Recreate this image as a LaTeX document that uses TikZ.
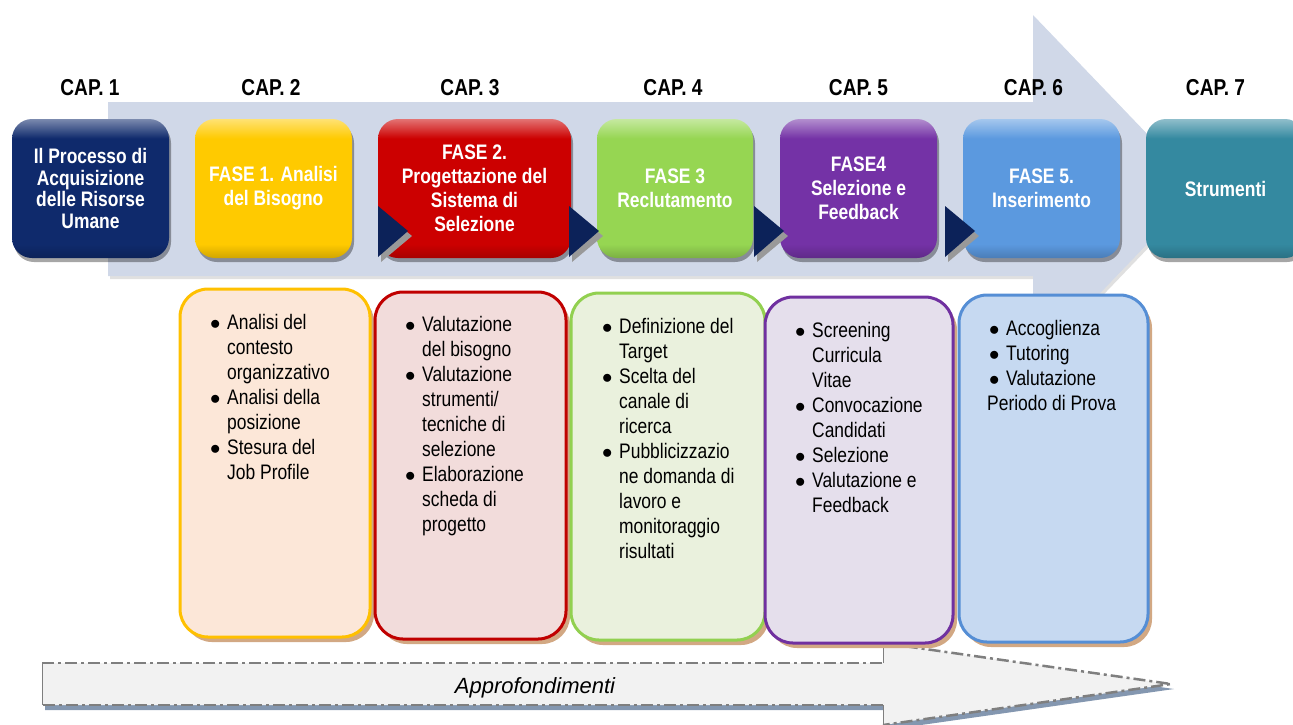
\documentclass[tikz,border=0pt]{standalone}
\usepackage{fontspec}
\setmainfont{Liberation Sans}[FakeStretch=0.83]
\newfontfamily\plainsans{Liberation Sans}
\usetikzlibrary{shadows}
\definecolor{bandc}{HTML}{D0D8E8}
\definecolor{navyb}{HTML}{0F2A6C}
\definecolor{yelb}{HTML}{FFCA00}
\definecolor{redb}{HTML}{CC0000}
\definecolor{grnb}{HTML}{96D652}
\definecolor{purb}{HTML}{7432A6}
\definecolor{blub}{HTML}{5B99DF}
\definecolor{tealb}{HTML}{3489A0}
\definecolor{tric}{HTML}{0C2259}
\definecolor{tanc}{HTML}{D2A883}
\definecolor{fillA}{HTML}{FCE7D8}
\definecolor{fillB}{HTML}{F2DCDB}
\definecolor{fillC}{HTML}{EAF1DD}
\definecolor{fillD}{HTML}{E5DFEC}
\definecolor{fillE}{HTML}{C6D9F1}
\definecolor{lineA}{HTML}{FFC000}
\definecolor{lineB}{HTML}{C00000}
\definecolor{lineC}{HTML}{92D050}
\definecolor{lineD}{HTML}{7030A0}
\definecolor{lineE}{HTML}{558ED5}
\definecolor{arrfill}{HTML}{F2F2F2}
\definecolor{arrline}{HTML}{7F7F7F}
\definecolor{arrshad}{HTML}{8497B0}
\colorlet{bvtop}{white}
\colorlet{bvmid}{gray}
\colorlet{bvbot}{black}
\pgfdeclareverticalshading[bvtop,bvmid,bvbot]{bevel}{100bp}{color(0bp)=(bvbot); color(25bp)=(bvbot); color(30bp)=(bvmid); color(68bp)=(bvmid); color(75bp)=(bvtop); color(100bp)=(bvtop)}
\newcommand{\blt}{\makebox[18pt][l]{\hspace{1pt}$\bullet$}}
\begin{document}
\begin{tikzpicture}[x=1pt,y=-1pt,
  topbox/.style={rounded corners=20pt, minimum width=#1, minimum height=139pt,
    inner sep=0pt, align=center, text=white,
    font=\bfseries\fontsize{21}{24}\selectfont,
    drop shadow={shadow xshift=2pt, shadow yshift=-4pt, opacity=0.35, fill=black}},
  shadeof/.style={/utils/exec={\colorlet{bvtop}{#1!55!white}\colorlet{bvmid}{#1}\colorlet{bvbot}{#1!82!black}}, shading=bevel},
  chaplabel/.style={font=\bfseries\fontsize{23}{23}\selectfont, inner sep=0pt},
  botbox/.style 2 args={draw=#1, fill=#2, line width=3pt, rounded corners=28pt,
    inner sep=0pt, general shadow={fill=tanc, shadow xshift=4pt, shadow yshift=-5pt}},
  listtext/.style={font=\fontsize{21}{25}\selectfont, inner sep=0pt, anchor=base west},
  dashdot/.style={draw=arrline, line width=2.5pt, dash pattern=on 12pt off 4pt on 3pt off 4pt}
]
\useasboundingbox (0,0) rectangle (1293,724);
\clip (0,0) rectangle (1293,724);

% big background arrow
\fill[black, opacity=0.12] (110,105) -- (1035,105) -- (1035,18) -- (1202,192) -- (1035,366) -- (1035,279) -- (110,279) -- cycle;
\fill[bandc] (108,102) -- (1033,102) -- (1033,15) -- (1200,189) -- (1033,363) -- (1033,276) -- (108,276) -- cycle;

% bottom dashed arrow
\fill[arrshad] (45,668) -- (886,668) -- (886,648) -- (1174,689) -- (886,730) -- (886,710) -- (45,710) -- cycle;
\fill[arrfill] (42,663) -- (883,663) -- (883,643) -- (1171,684) -- (883,725) -- (883,705) -- (42,705) -- cycle;
\draw[dashdot] (42,663) -- (883,663);
\draw[dashdot] (883,643) -- (1171,684) -- (883,725);
\draw[dashdot] (883,705) -- (42,705);
\draw[arrline, line width=0.8pt] (42,663) -- (42,705) (883,663) -- (883,643) (883,705) -- (883,725);
\node[font=\plainsans\itshape\fontsize{22}{22}\selectfont, inner sep=0pt] (appr) at (535,687.5) {Approfondimenti};

% chapter labels
\node[chaplabel] (c1) at (90,88) {CAP. 1};
\node[chaplabel] (c2) at (271,88) {CAP. 2};
\node[chaplabel] (c3) at (470,88) {CAP. 3};
\node[chaplabel] (c4) at (673,88) {CAP. 4};
\node[chaplabel] (c5) at (858.5,88) {CAP. 5};
\node[chaplabel] (c6) at (1033.5,88) {CAP. 6};
\node[chaplabel] (c7) at (1215.5,88) {CAP. 7};

% top boxes
\node[topbox=157pt, shadeof=navyb, font=\bfseries\fontsize{21}{21.7}\selectfont] (p0) at (90.5,188.5) {Il Processo di\\Acquisizione\\delle Risorse\\Umane};
\node[topbox=157pt, shadeof=yelb] (p1) at (273.5,188.5) {FASE 1. Analisi\\del Bisogno};
\node[topbox=193pt, shadeof=redb] (p2) at (474.5,188.5) {FASE 2.\\Progettazione del\\Sistema di\\Selezione};
\node[topbox=156pt, shadeof=grnb] (p3) at (675,188.5) {FASE 3\\Reclutamento};
\node[topbox=157pt, shadeof=purb] (p4) at (858.5,188.5) {FASE4\\Selezione e\\Feedback};
\node[topbox=157pt, shadeof=blub] (p5) at (1041.5,188.5) {FASE 5.\\Inserimento};
\node[topbox=159pt, shadeof=tealb] (p6) at (1225.5,188.5) {Strumenti};

% chevrons
\foreach \tx in {378,569,754,945} {
  \fill[black!40] (\tx+3,211) -- (\tx+34,236) -- (\tx+3,262) -- cycle;
  \fill[tric] (\tx,206) -- (\tx+30,231) -- (\tx,257) -- cycle;
}

% bottom boxes
\node[botbox={lineA}{fillA}, minimum width=190pt, minimum height=348pt] (b1) at (275,463) {};
\node[botbox={lineB}{fillB}, minimum width=191pt, minimum height=347pt] (b2) at (470.5,465.5) {};
\node[botbox={lineC}{fillC}, minimum width=194pt, minimum height=347pt] (b3) at (668,466.5) {};
\node[botbox={lineD}{fillD}, minimum width=188pt, minimum height=346pt] (b4) at (859,470) {};
\node[botbox={lineE}{fillE}, minimum width=189pt, minimum height=347pt] (b5) at (1053.5,468.5) {};

\node[listtext] (t1) at (209,329.5) {\begin{tabular}[t]{@{}l@{}l@{}}
\blt & Analisi del\\ & contesto\\ & organizzativo\\
\blt & Analisi della\\ & posizione\\
\blt & Stesura del\\ & Job Profile
\end{tabular}};
\node[listtext] (t2) at (404,331.5) {\begin{tabular}[t]{@{}l@{}l@{}}
\blt & Valutazione\\ & del bisogno\\
\blt & Valutazione\\ & strumenti/\\ & tecniche di\\ & selezione\\
\blt & Elaborazione\\ & scheda di\\ & progetto
\end{tabular}};
\node[listtext] (t3) at (601,333.5) {\begin{tabular}[t]{@{}l@{}l@{}}
\blt & Definizione del\\ & Target\\
\blt & Scelta del\\ & canale di\\ & ricerca\\
\blt & Pubblicizzazio\\ & ne domanda di\\ & lavoro e\\ & monitoraggio\\ & risultati
\end{tabular}};
\node[listtext] (t4) at (794,337.5) {\begin{tabular}[t]{@{}l@{}l@{}}
\blt & Screening\\ & Curricula\\ & Vitae\\
\blt & Convocazione\\ & Candidati\\
\blt & Selezione\\
\blt & Valutazione e\\ & Feedback
\end{tabular}};
\node[listtext] (t5) at (988,335.5) {\begin{tabular}[t]{@{}l@{}l@{}}
\blt & Accoglienza\\
\blt & Tutoring\\
\blt & Valutazione\\
\multicolumn{2}{@{}l@{}}{\hspace{-1pt}Periodo di Prova}
\end{tabular}};
\end{tikzpicture}
\end{document}
